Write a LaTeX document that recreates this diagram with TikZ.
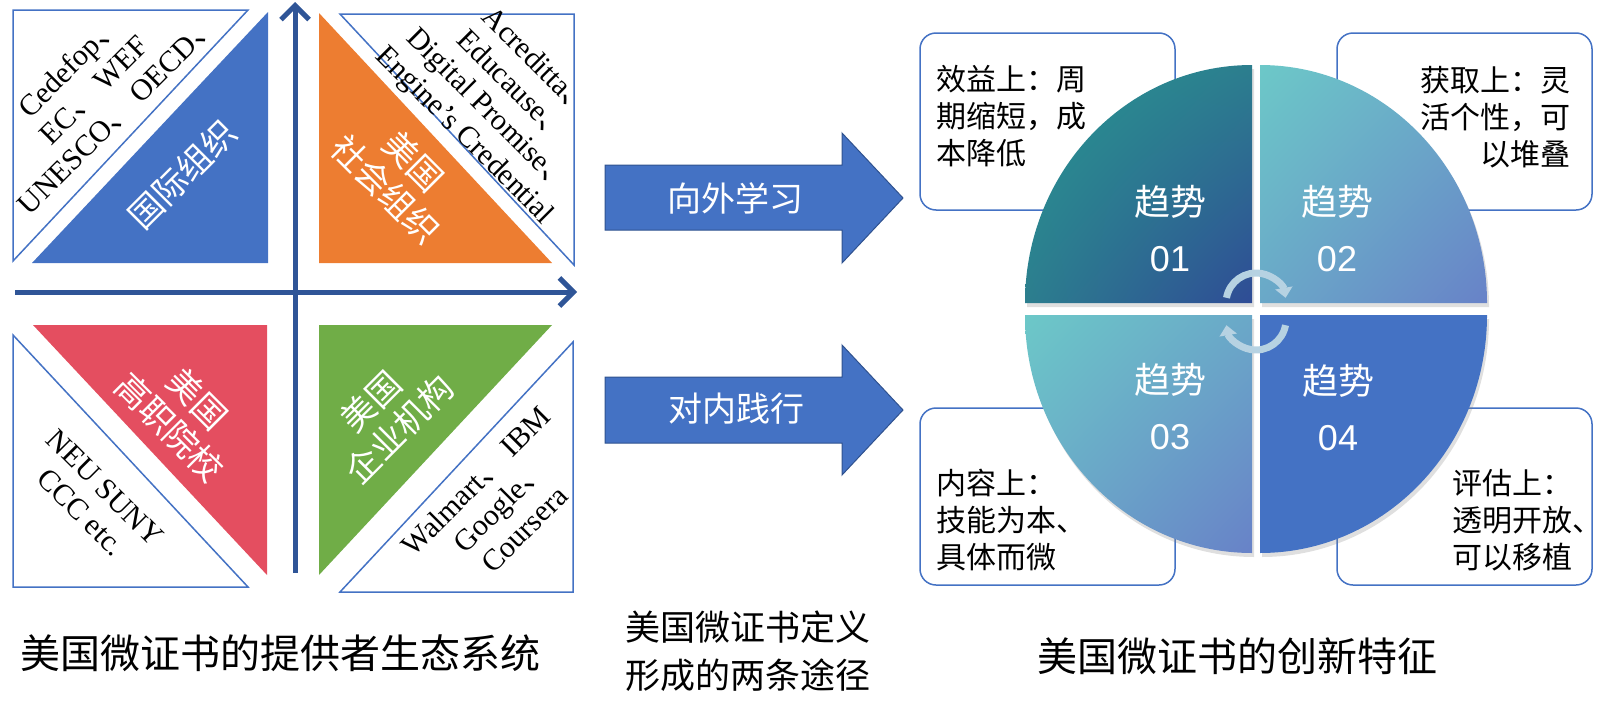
\documentclass[tikz,border=0pt]{standalone}
\usepackage{fontspec}
\setmainfont{Liberation Serif}
\newfontfamily\cjk{Noto Sans CJK SC}
\newfontfamily\arial{Liberation Sans}
\usepackage{tikz}
\usetikzlibrary{arrows.meta,shadows,shadings}
\definecolor{mcblue}{RGB}{68,114,196}
\definecolor{mcaxis}{RGB}{47,85,151}
\definecolor{mcedge}{RGB}{47,82,143}
\definecolor{mcorange}{RGB}{237,125,49}
\definecolor{mcred}{RGB}{228,78,96}
\definecolor{mcgreen}{RGB}{112,173,71}
\definecolor{mcteal}{RGB}{40,150,145}
\definecolor{mcnavy}{RGB}{47,76,150}
\definecolor{mcmid}{RGB}{44,126,142}
\definecolor{mcaqua}{RGB}{108,200,200}
\definecolor{mcsky}{RGB}{104,130,200}
\definecolor{mcpale}{RGB}{106,168,200}
\definecolor{mcturn}{RGB}{182,210,226}
\newcommand{\dunhao}{{\cjk 、}}

\begin{document}
\begin{tikzpicture}[x=1pt,y=-1pt,
    tri/.style={fill=white,draw=mcblue,line width=1.5pt},
    eng/.style={font=\fontsize{30}{34}\selectfont,align=center,inner sep=0pt},
    cnw/.style={font=\cjk\fontsize{34}{40}\selectfont,align=center,text=white,inner sep=0pt},
    axisline/.style={draw=mcaxis,line width=5pt,-{Straight Barb[length=14pt,width=28pt]}},
    bigarrow/.style={fill=mcblue,draw=mcedge,line width=1pt},
    arrtxt/.style={font=\cjk\fontsize{34}{40}\selectfont,text=white,inner sep=0pt},
    notebox/.style={draw=mcblue,line width=1.5pt,fill=white,rounded corners=16pt,minimum width=255pt,minimum height=177pt},
    notetxt/.style={font=\cjk\fontsize{30}{37}\selectfont,inner sep=0pt},
    quarter/.style={drop shadow={opacity=0.25,shadow xshift=2pt,shadow yshift=-4pt}},
    trend/.style={font=\cjk\fontsize{36}{56}\selectfont,text=white,align=center,inner sep=0pt},
    turn/.style={draw=mcturn,line width=7pt,-{Triangle[length=10pt,width=17pt]}},
    capt/.style={font=\cjk\fontsize{40}{48}\selectfont,align=center,inner sep=0pt}]
  \useasboundingbox (0,0) rectangle (1600,704);

  % provider ecosystem
  \draw[tri] (13,10) -- (248,10) -- (13,261) -- cycle;
  \fill[mcblue] (268,12) -- (268,263) -- (32,263) -- cycle;
  \draw[tri] (340,14) -- (574,14) -- (574,265) -- cycle;
  \fill[mcorange] (319,13) -- (319,263) -- (552,263) -- cycle;
  \fill[mcred] (33,325) -- (267,325) -- (267,575) -- cycle;
  \draw[tri] (13,335) -- (13,587) -- (248,587) -- cycle;
  \fill[mcgreen] (319,325) -- (552,325) -- (319,575) -- cycle;
  \draw[tri] (573,342) -- (573,592) -- (340,592) -- cycle;

  \coordinate (axl) at (15,292);
  \coordinate (axr) at (577,292);
  \coordinate (axb) at (295,573);
  \coordinate (axt) at (295,2);
  \draw[axisline] (axl) -- (axr);
  \draw[axisline] (axb) -- (axt);

  \node[cnw,rotate=45] (intl) at (182,174) {国际组织};
  \node[cnw,rotate=-45] (social) at (400,175) {美国\\社会组织};
  \node[cnw,rotate=-45] (college) at (184,413) {美国\\高职院校};
  \node[cnw,rotate=45] (firm) at (385,415) {美国\\企业机构};
  \node[eng,rotate=45] (intlnames) at (94,90) {Cedefop\dunhao\\EC\dunhao{} WEF\\UNESCO\dunhao{} OECD\dunhao};
  \node[eng,rotate=-45] (socialnames) at (500,100) {Acreditta\dunhao\\Educause\dunhao\\Digital Promise\dunhao\\Engine’s Credential};
  \node[eng,rotate=-45] (collegenames) at (93,500) {NEU SUNY\\CCC etc.};
  \node[eng,rotate=45] (firmnames) at (500,505) {Walmart\dunhao{} IBM\\Google\dunhao\\Coursera};

  % two paths
  \draw[bigarrow] (605,165) -- (842,165) -- (842,133) -- (903,198) -- (842,263) -- (842,230) -- (605,230) -- cycle;
  \draw[bigarrow] (605,377) -- (842,377) -- (842,345) -- (903,410) -- (842,475) -- (842,443) -- (605,443) -- cycle;
  \node[arrtxt] (learn) at (735,198) {向外学习};
  \node[arrtxt] (practice) at (736,409) {对内践行};

  % innovation features
  \node[notebox] (benefit) at (1047.5,121.5) {};
  \node[notebox] (access) at (1464.5,121.5) {};
  \node[notebox] (content) at (1047.5,496.5) {};
  \node[notebox] (assess) at (1464.5,496.5) {};
  \node[notetxt,align=left,anchor=west] at (936,116) {效益上：周\\期缩短，成\\本降低};
  \node[notetxt,align=right,anchor=east] at (1571,117) {获取上：灵\\活个性，可\\以堆叠};
  \node[notetxt,align=left,anchor=west] at (936,520) {内容上：\\技能为本、\\具体而微};
  \node[notetxt,align=left,anchor=west] at (1452,520) {评估上：\\透明开放、\\可以移植};

  \shade[quarter,upper left=mcteal,upper right=mcmid,lower left=mcmid,lower right=mcnavy]
    (1252,303) -- (1025,303) arc[start angle=180,end angle=90,x radius=227pt,y radius=238pt] -- cycle;
  \shade[quarter,upper left=mcaqua,upper right=mcpale,lower left=mcpale,lower right=mcsky]
    (1260,303) -- (1260,65) arc[start angle=90,end angle=0,x radius=227pt,y radius=238pt] -- cycle;
  \shade[quarter,upper left=mcaqua,upper right=mcpale,lower left=mcpale,lower right=mcsky]
    (1252,315) -- (1025,315) arc[start angle=180,end angle=270,x radius=227pt,y radius=238pt] -- cycle;
  \fill[quarter,mcblue]
    (1260,315) -- (1487,315) arc[start angle=0,end angle=-90,x radius=227pt,y radius=238pt] -- cycle;

  \node[trend] (t1) at (1170,229) {趋势\\{\arial 01}};
  \node[trend] (t2) at (1337,229) {趋势\\{\arial 02}};
  \node[trend] (t3) at (1170,407) {趋势\\{\arial 03}};
  \node[trend] (t4) at (1338,408) {趋势\\{\arial 04}};

  \coordinate (cyca) at (1226.5,297.8);
  \coordinate (cycb) at (1285.5,325.2);
  \draw[turn] (cyca) arc[start angle=170,end angle=10,radius=30pt];
  \draw[turn] (cycb) arc[start angle=-10,end angle=-170,radius=30pt];

  % captions
  \node[capt] (cap1) at (280,653) {美国微证书的提供者生态系统};
  \node[capt,font=\cjk\fontsize{35}{48}\selectfont] (cap2) at (748,651) {美国微证书定义\\形成的两条途径};
  \node[capt] (cap3) at (1237,656) {美国微证书的创新特征};
\end{tikzpicture}
\end{document}
